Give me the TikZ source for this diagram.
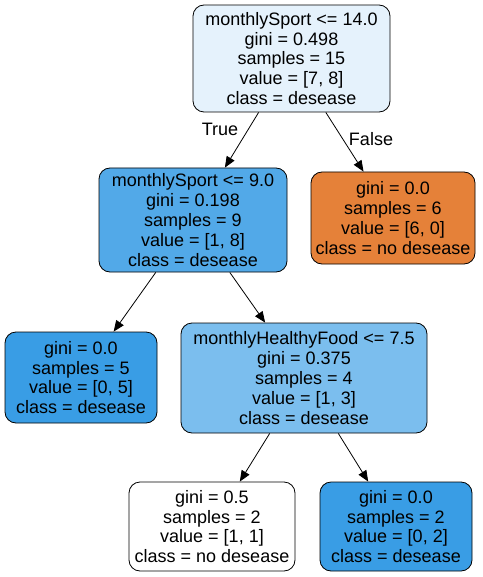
\documentclass[tikz,border=0pt]{standalone}
\usepackage{fontspec}
\setmainfont{Liberation Sans}
\usetikzlibrary{arrows.meta}
\definecolor{rootfill}{HTML}{E5F2FC}
\definecolor{darkblue}{HTML}{399DE5}
\definecolor{midblue}{HTML}{52A9E8}
\definecolor{lightblue}{HTML}{7BBEEE}
\definecolor{orangefill}{HTML}{E58139}
\tikzset{tree node/.style={draw, line width=0.8pt, rounded corners=11pt, align=center, inner sep=0pt,
    font=\fontsize{18}{19.8}\selectfont},
  edge/.style={-{Triangle[length=11pt,width=9pt]}, line width=0.8pt}}

\begin{document}
\begin{tikzpicture}[x=1pt,y=-1pt]
    \useasboundingbox (0,0) rectangle (482,577);
    \node[tree node, fill=rootfill, minimum width=197pt, minimum height=107pt] at (291.5,58.5) (root)
        {monthlySport <= 14.0\\gini = 0.498\\samples = 15\\value = [7, 8]\\class = desease};
    \node[tree node, fill=midblue, minimum width=188pt, minimum height=104pt] at (193,220) (sport9)
        {monthlySport <= 9.0\\gini = 0.198\\samples = 9\\value = [1, 8]\\class = desease};
    \node[tree node, fill=orangefill, minimum width=164pt, minimum height=92pt] at (393,218) (nodes6)
        {gini = 0.0\\samples = 6\\value = [6, 0]\\class = no desease};
    \node[tree node, fill=darkblue, minimum width=152pt, minimum height=91pt] at (81,377.5) (des5)
        {gini = 0.0\\samples = 5\\value = [0, 5]\\class = desease};
    \node[tree node, fill=lightblue, minimum width=246pt, minimum height=110pt] at (304,378) (food)
        {monthlyHealthyFood <= 7.5\\gini = 0.375\\samples = 4\\value = [1, 3]\\class = desease};
    \node[tree node, fill=white, minimum width=166pt, minimum height=89pt] at (212,526.5) (nodes2)
        {gini = 0.5\\samples = 2\\value = [1, 1]\\class = no desease};
    \node[tree node, fill=darkblue, minimum width=152pt, minimum height=89pt] at (396,526.5) (des2)
        {gini = 0.0\\samples = 2\\value = [0, 2]\\class = desease};

    \draw[edge] (root) -- (sport9);
    \draw[edge] (root) -- (nodes6);
    \draw[edge] (sport9) -- (des5);
    \draw[edge] (sport9) -- (food);
    \draw[edge] (food) -- (nodes2);
    \draw[edge] (food) -- (des2);

    \node[font=\fontsize{18}{19.8}\selectfont] at (220,129) (true) {True};
    \node[font=\fontsize{18}{19.8}\selectfont] at (371,139) (false) {False};
\end{tikzpicture}
\end{document}
